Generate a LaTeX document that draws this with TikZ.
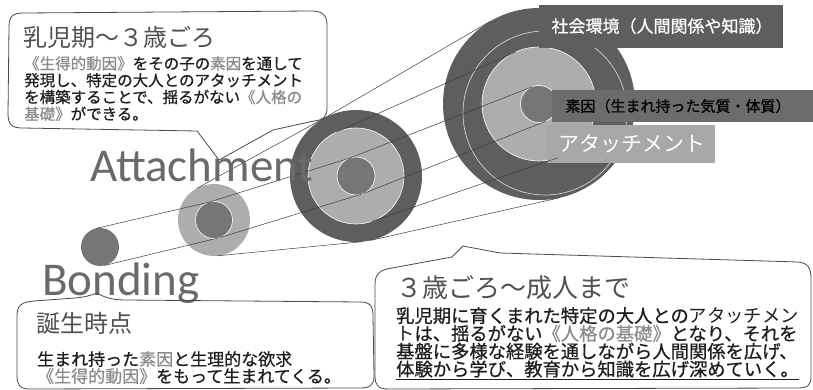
\documentclass[tikz,border=0pt]{standalone}
\usepackage{fontspec}
\newfontfamily\jp{Noto Sans CJK JP}
\newfontfamily\jpmed{Noto Sans CJK JP}[FakeBold=0.7]
\newfontfamily\calfont{Carlito}
\usetikzlibrary{calc}
\definecolor{darkring}{HTML}{5E5E5E}
\definecolor{lightring}{HTML}{ADADAD}
\definecolor{innerc}{HTML}{767676}
\definecolor{boxtwo}{HTML}{6C6C6C}
\definecolor{boxthree}{HTML}{A8A8A8}
\definecolor{conecol}{HTML}{3C3C3C}
\definecolor{bubcol}{HTML}{4A4A4A}
\definecolor{titlecol}{HTML}{505050}
\definecolor{bodycol}{HTML}{1E1E1E}
\definecolor{softcol}{HTML}{8C8C8C}
\definecolor{bigword}{HTML}{6A6A6A}
\newcommand\soft[1]{{\color{softcol}#1}}
\newcommand\tanglines[4]{%
  \draw[cone] let \p1=(#1), \p2=(#3),
     \n1={veclen(\x2-\x1,\y2-\y1)}, \n2={asin((#4-#2)/\n1)},
     \n3={90+\n2}, \n4={\n2-90}, \n5={-90-\n2}, \n6={90-\n2} in
     ($(#1)!#2pt!\n3:(#3)$) -- ($(#3)!#4pt!\n4:(#1)$)
     ($(#1)!#2pt!\n5:(#3)$) -- ($(#3)!#4pt!\n6:(#1)$);}
\begin{document}
\begin{tikzpicture}[x=1pt,y=-1pt,
  cone/.style={draw=conecol,line width=0.5pt},
  bubble/.style={draw=bubcol,line width=0.8pt,line join=round},
  title/.style={anchor=north west,inner sep=0,text=titlecol,font=\jp\fontsize{#1}{#1}\selectfont},
  body/.style={anchor=north west,inner sep=0,align=left,text=bodycol},
  bigtext/.style={anchor=base west,inner sep=0,text=bigword,font=\calfont\fontsize{47}{47}\selectfont},
  labelbox/.style={anchor=north west,inner sep=0,outer sep=0}]
\fill[white] (0,0) rectangle (813,390);
\useasboundingbox (0,0) rectangle (813,390);
% centres
\coordinate (c1) at (100,247);
\coordinate (c2) at (214,220);
\coordinate (c3) at (356,176);
\coordinate (c4) at (539,104);
% circles
\fill[innerc] (c1) circle[radius=19pt];
\fill[lightring] (c2) circle[radius=36pt];
\filldraw[fill=innerc,draw=white,line width=0.6pt] (c2) circle[radius=18.5pt];
\fill[darkring] (c3) circle[radius=66pt];
\filldraw[fill=lightring,draw=white,line width=0.6pt] (c3) circle[radius=48pt];
\filldraw[fill=innerc,draw=white,line width=0.6pt] (c3) circle[radius=19pt];
\fill[darkring] (c4) circle[radius=96pt];
\coordinate (arcc) at (545,113);
\draw[white,line width=0.6pt,opacity=0.8] (arcc) circle[radius=82pt];
\filldraw[fill=lightring,draw=white,line width=0.6pt] (c4) circle[radius=57pt];
\filldraw[fill=innerc,draw=white,line width=0.6pt] (c4) circle[radius=18.5pt];
% label boxes
\node[labelbox,fill=darkring,minimum width=244pt,minimum height=43pt] (box1) at (539,5) {};
\node[labelbox,fill=boxtwo,minimum width=262pt,minimum height=32pt] (box2) at (552,90) {};
\node[labelbox,fill=boxthree,minimum width=168pt,minimum height=38pt] (box3) at (547,125) {};
\node[inner sep=0,text=white,font=\jpmed\fontsize{17}{17}\selectfont] (t1) at (662,26) {社会環境（人間関係や知識）};
\node[inner sep=0,text=black,font=\jpmed\fontsize{15}{15}\selectfont] (t2) at (678,106) {素因（生まれ持った気質・体質）};
\node[inner sep=0,text=white,font=\jp\fontsize{21}{21}\selectfont] (t3) at (632,144) {アタッチメント};
% cone lines
\tanglines{c1}{19}{c2}{18.5}
\tanglines{c2}{18.5}{c3}{19}
\tanglines{c2}{36}{c3}{66}
\tanglines{c3}{19}{c4}{18.5}
\tanglines{c3}{48}{c4}{57}
\tanglines{c3}{66}{c4}{96}
% big words
\node[bigtext] (att) at (90,182) {Attachment};
\node[bigtext] (bond) at (42,295) {Bonding};
% bubble 1
\coordinate (tail1a) at (197,131);
\coordinate (tail1tip) at (219,160);
\coordinate (tail1b) at (273,130);
\draw[bubble] (tail1a) -- (22,128) .. controls (12,128) and (8,124) .. (8,114)
  -- (9,27) .. controls (9,16) and (13,13) .. (24,13)
  -- (312,11) .. controls (322,11) and (327,15) .. (327,25)
  -- (327,108) .. controls (327,117) and (323,120) .. (314,121)
  -- (tail1b) -- (tail1tip) -- cycle;
% bubble 2
\coordinate (tail2tip) at (97,293);
\draw[bubble] (17,376) -- (17,316) .. controls (17,305) and (22,302) .. (34,301)
  -- (75,298) .. controls (86,297) and (92,295) .. (tail2tip)
  .. controls (102,296) and (110,300) .. (125,300)
  -- (360,302) .. controls (370,302) and (373,306) .. (373,316)
  -- (374,376) .. controls (374,385) and (370,388) .. (360,388)
  -- (30,389) .. controls (20,389) and (17,385) .. (17,376) -- cycle;
% bubble 3
\coordinate (tail3tip) at (463,246);
\draw[bubble] (375,376) -- (375,285) .. controls (375,273) and (380,270) .. (392,268)
  -- (452,257) -- (tail3tip) -- (500,253)
  -- (798,262) .. controls (808,263) and (811,268) .. (811,278)
  -- (811,376) .. controls (811,385) and (808,388) .. (798,388)
  -- (388,389) .. controls (378,389) and (375,385) .. (375,376) -- cycle;
% texts bubble 1
\node[title=24] (ttl1) at (23,26) {乳児期～３歳ごろ};
\node[body,font=\jpmed\fontsize{15.5}{16.8}\selectfont] (txt1) at (24,56)
 {\soft{《生得的動因》}をその子の\soft{素因}を通して\\
  発現し、特定の大人とのアタッチメント\\
  を構築することで、揺るがない\soft{《人格の}\\
  \soft{基礎》}ができる。};
% texts bubble 2
\node[title=24] (ttl2) at (36,312) {誕生時点};
\node[body,font=\jpmed\fontsize{17}{17}\selectfont] (txt2) at (37,351)
 {生まれ持った\soft{素因}と生理的な欲求\\
  \soft{《生得的動因》}をもって生まれてくる。};
% texts bubble 3
\node[title=26] (ttl3) at (396,275) {３歳ごろ～成人まで};
\node[body,font=\jpmed\fontsize{18.3}{17.8}\selectfont] (txt3) at (396,307)
 {乳児期に育くまれた特定の大人との{\jp アタッチメン}\\
  {\jp ト}は、揺るがない\soft{《人格の基礎》}となり、それを\\
  基盤に多様な経験を通しながら人間関係を広げ、\\
  \underline{体験から学び、教育から知識を広げ深めていく。}};
\end{tikzpicture}
\end{document}
